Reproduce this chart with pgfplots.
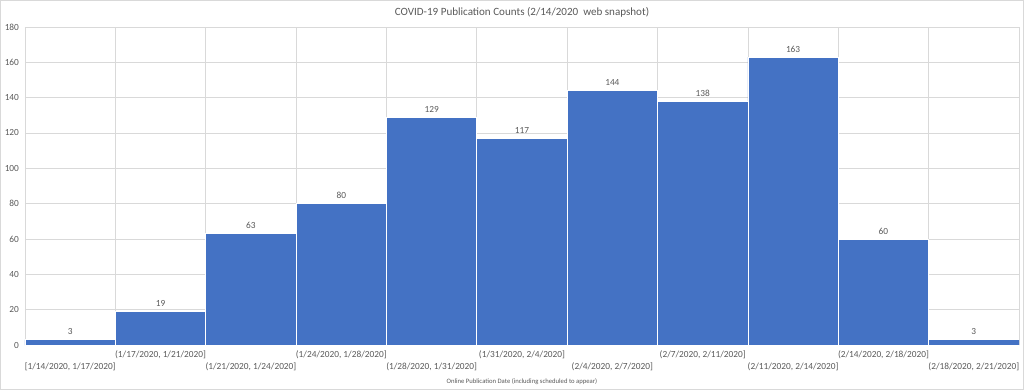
\documentclass[border=0pt]{standalone}
\usepackage{fontspec}
\setmainfont{Carlito}
\usepackage{pgfplots}
\pgfplotsset{compat=1.18}
\definecolor{barblue}{HTML}{4472C4}
\definecolor{txtgray}{HTML}{595959}
\definecolor{gridgray}{HTML}{D9D9D9}
\begin{document}
\begin{tikzpicture}
\useasboundingbox (-18.75pt,-33.75pt) rectangle (749.25pt,258.75pt);
\draw[gridgray, line width=0.6pt] (-18.45pt,-33.45pt) rectangle (748.95pt,258.45pt);
\begin{axis}[
  at={(0,0)}, anchor=south west,
  scale only axis,
  width=745.5pt, height=238.5pt,
  ybar, bar width=1, bar shift=0,
  xmin=-0.5, xmax=10.5, ymin=0, ymax=180,
  enlargelimits=false,
  axis line style={draw=none},
  major tick length=0pt, minor tick length=0pt,
  ytick={0,20,...,180},
  ymajorgrids=true,
  xmajorgrids=false,
  minor xtick={-0.5,0.5,...,10.5},
  xminorgrids=true,
  grid style={gridgray, line width=0.6pt},
  minor grid style={gridgray, line width=0.6pt},
  xtick={0,2,4,6,8,10},
  xticklabels={{[1/14/2020, 1/17/2020]},{(1/21/2020, 1/24/2020]},{(1/28/2020, 1/31/2020]},{(2/4/2020, 2/7/2020]},{(2/11/2020, 2/14/2020]},{(2/18/2020, 2/21/2020]}},
  xticklabel style={anchor=base, yshift=-18pt, font=\fontsize{7}{8}\selectfont, text=txtgray},
  extra x ticks={1,3,5,7,9},
  extra x tick labels={{(1/17/2020, 1/21/2020]},{(1/24/2020, 1/28/2020]},{(1/31/2020, 2/4/2020]},{(2/7/2020, 2/11/2020]},{(2/14/2020, 2/18/2020]}},
  extra x tick style={grid=none, xticklabel style={yshift=9pt}},
  yticklabel style={font=\fontsize{7}{8}\selectfont, text=txtgray, xshift=-1pt},
  /pgf/number format/assume math mode=true,
  title={COVID-19 Publication Counts (2/14/2020\ \ web snapshot)},
  title style={at={(0.5,1)}, anchor=base, yshift=3pt, font=\fontsize{8.3}{10}\selectfont, text=txtgray},
  xlabel={Online Publication Date (including scheduled to appear)},
  xlabel style={at={(0.5,0)}, anchor=base, yshift=-29pt, font=\fontsize{5}{6}\selectfont, text=txtgray},
  nodes near coords,
  every node near coord/.append style={font=\fontsize{7}{8}\selectfont, text=txtgray},
]
\addplot[fill=barblue, draw=white, line width=0.5pt] coordinates {
(0,3) (1,19) (2,63) (3,80) (4,129) (5,117) (6,144) (7,138) (8,163) (9,60) (10,3)
};
\end{axis}
\end{tikzpicture}
\end{document}
